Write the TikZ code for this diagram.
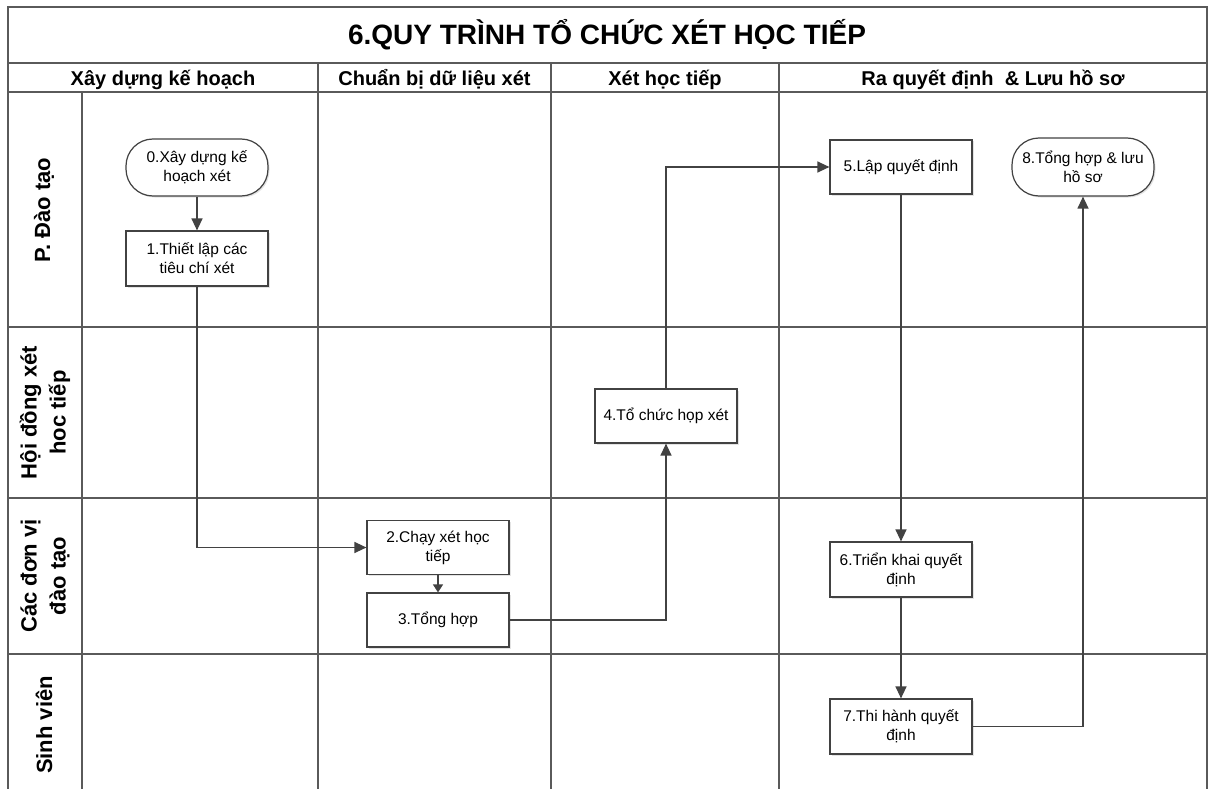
\documentclass[tikz,border=0pt]{standalone}
\usepackage{fontspec}
\setmainfont{Liberation Sans}
\usetikzlibrary{arrows.meta,shadows}
\definecolor{lanegray}{HTML}{5A5A5A}
\definecolor{flowgray}{HTML}{424242}
\begin{document}
\begin{tikzpicture}[x=1pt,y=-1pt,
  lane/.style={draw=lanegray,line width=1.6pt},
  box/.style={draw=flowgray,line width=1.2pt,fill=white,minimum width=142pt,inner sep=2pt,
    align=center,font=\fontsize{15.5}{19}\selectfont,
    drop shadow={opacity=0.22,shadow xshift=1.5pt,shadow yshift=-1.5pt}},
  term/.style={box,rounded corners=27pt},
  flow/.style={draw=flowgray,line width=1.3pt,-{Triangle[length=12pt,width=11pt]}},
  head/.style={anchor=base,font=\fontsize{20}{24}\selectfont\bfseries},
  titletext/.style={anchor=base,font=\fontsize{28}{32}\selectfont\bfseries},
  role/.style={font=\fontsize{22}{29}\selectfont\bfseries,rotate=90,align=center}]

\useasboundingbox (0,0) rectangle (1208,789);
\fill[white] (0,0) rectangle (1208,789);

% swimlane grid
\draw[lane] (8,789) -- (8,7) -- (1207,7) -- (1207,789);
\draw[lane] (8,63) -- (1207,63);
\draw[lane] (8,92) -- (1207,92);
\foreach \y in {327,498,654} \draw[lane] (8,\y) -- (1207,\y);
\draw[lane] (82,92) -- (82,789);
\foreach \x in {318,551,779} \draw[lane] (\x,63) -- (\x,789);

% title and headers
\node[titletext] (title) at (607,45) {6.QUY TRÌNH TỔ CHỨC XÉT HỌC TIẾP};
\node[head] (h1) at (163,86) {Xây dựng kế hoạch};
\node[head] (h2) at (434.5,86) {Chuẩn bị dữ liệu xét};
\node[head] (h3) at (665,86) {Xét học tiếp};
\node[head] (h4) at (993,86) {Ra quyết định\ \ \& Lưu hồ sơ};

% lane labels
\node[role] (r1) at (44,210) {P. Đào tạo};
\node[role] (r2) at (45,412.5) {Hội đồng xét\\hoc tiếp};
\node[role] (r3) at (45,576) {Các đơn vị\\đào tạo};
\node[role] (r4) at (44,725) {Sinh viên};

% flow nodes
\node[term, minimum height=57pt] (n0) at (197,167.5) {0.Xây dựng kế\\hoạch xét};
\node[box, minimum height=55pt] (n1) at (197,258.5) {1.Thiết lập các\\tiêu chí xét};
\node[box, minimum height=54pt] (n2) at (438,547.5) {2.Chạy xét học\\tiếp};
\node[box, minimum height=54pt] (n3) at (438,620) {3.Tổng hợp};
\node[box, minimum height=54pt] (n4) at (666,416) {4.Tổ chức họp xét};
\node[box, minimum height=54pt] (n5) at (901,167) {5.Lập quyết định};
\node[box, minimum height=55pt] (n6) at (901,569.5) {6.Triển khai quyết\\định};
\node[box, minimum height=55pt] (n7) at (901,726.5) {7.Thi hành quyết\\định};
\node[term, minimum height=58pt] (n8) at (1083,167) {8.Tổng hợp \& lưu\\hồ sơ};

% connectors
\draw[flow] (n0) -- (n1);
\draw[flow] (n1.south) |- (n2.west);
\draw[flow,-{Triangle[length=8pt,width=10pt]}] (n2) -- (n3);
\draw[flow] (n3.east) -| (n4.south);
\draw[flow] (n4.north) |- (n5.west);
\draw[flow] (n5) -- (n6);
\draw[flow] (n6) -- (n7);
\draw[flow] (n7.east) -| (n8.south);
\end{tikzpicture}
\end{document}
